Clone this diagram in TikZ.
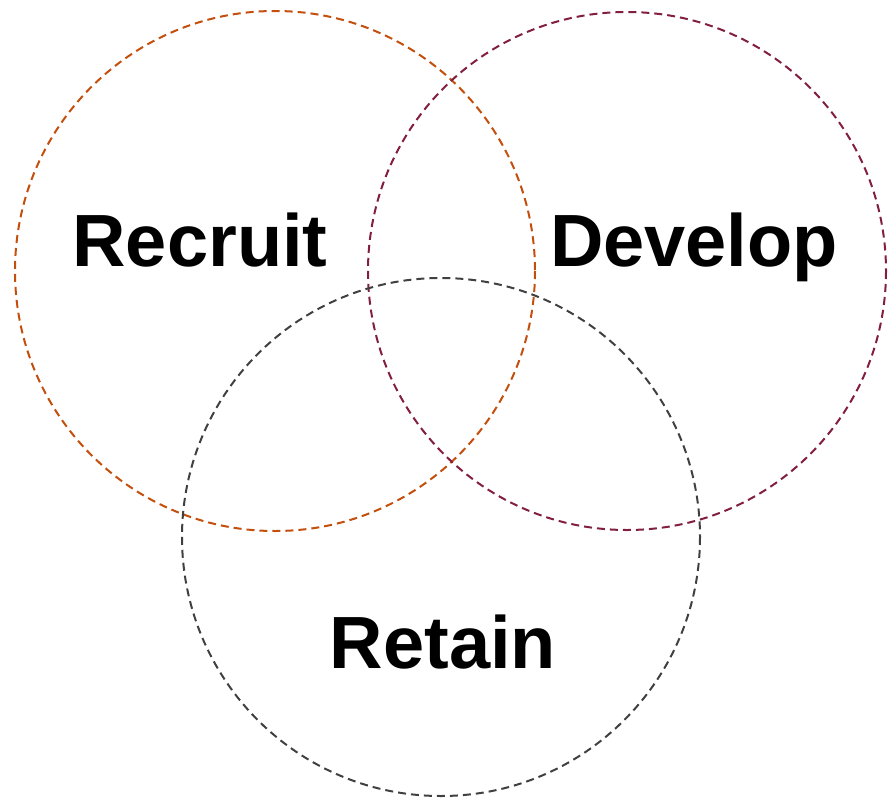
\documentclass[tikz,border=0pt]{standalone}
\usepackage{fontspec}
\setmainfont{Liberation Sans}
\definecolor{recruitc}{RGB}{196,78,12}
\definecolor{developc}{RGB}{130,30,62}
\definecolor{retainc}{RGB}{64,64,64}
\begin{document}
\begin{tikzpicture}[x=1pt,y=-1pt,
  ring/.style={line width=2pt, dash pattern=on 8pt off 5pt},
  label/.style={font=\fontsize{74}{80}\selectfont\bfseries, anchor=base, inner sep=0pt}]
\useasboundingbox (0,0) rectangle (889,800);
\draw[ring, recruitc] (275,271) circle[radius=260];
\draw[ring, developc] (627,271) circle[radius=259];
\draw[ring, retainc] (441,537) circle[radius=259];
\node[label] (recruit) at (200,266) {Recruit};
\node[label] (develop) at (694,266) {Develop};
\node[label] (retain) at (443,668) {Retain};
\end{tikzpicture}
\end{document}
